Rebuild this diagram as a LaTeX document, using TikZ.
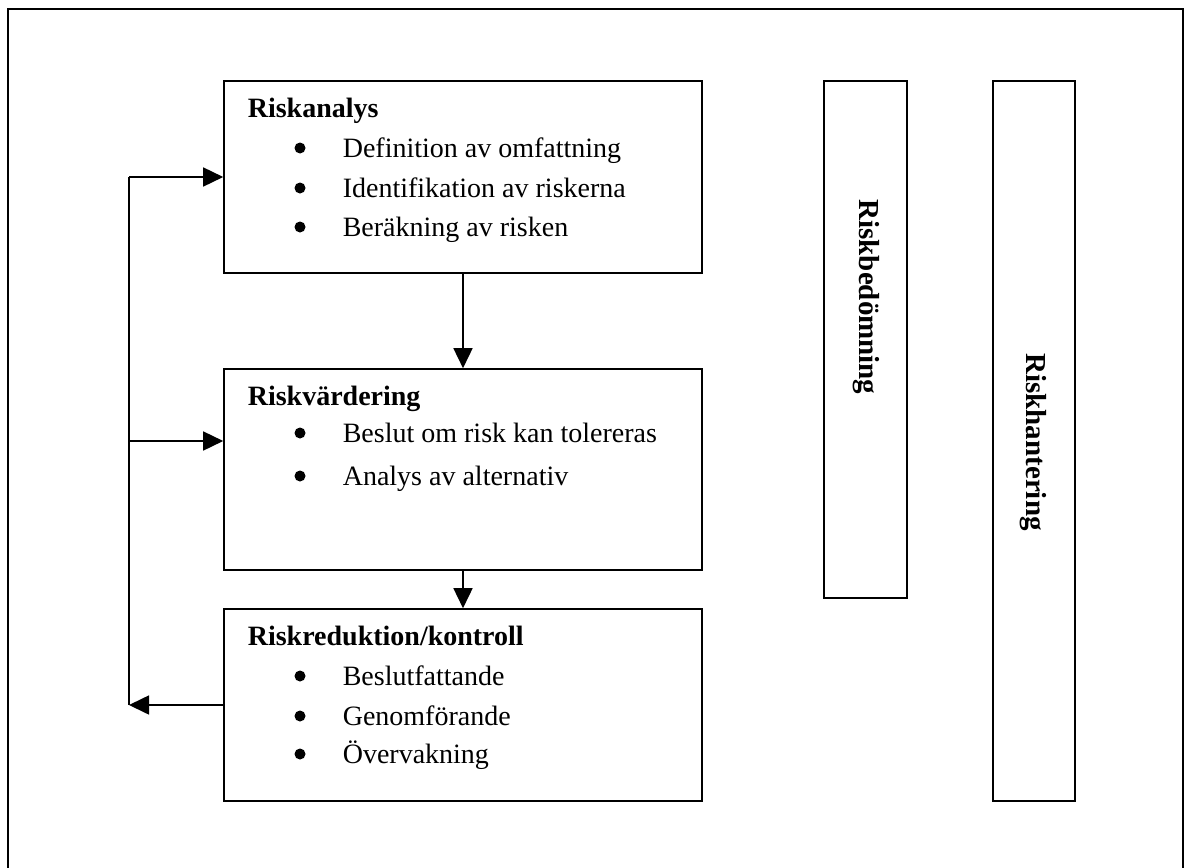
\documentclass[tikz,border=0pt]{standalone}
\usepackage{fontspec}
\setmainfont{Liberation Serif}
\usetikzlibrary{arrows.meta}

\begin{document}
\begin{tikzpicture}[
    x=1pt, y=-1pt,
    line cap=butt,
    line join=miter,
    >={Triangle[length=20pt,width=19pt]},   % arrow tip style
    line width=1.6pt,
    box/.style={draw, rectangle, inner sep=0pt},
    title/.style={anchor=base west, inner sep=0pt, font=\fontsize{28}{32}\selectfont\bfseries},
    item/.style={anchor=base west, inner sep=0pt, font=\fontsize{28}{32}\selectfont},
    dot/.style={circle, fill, inner sep=0pt, minimum size=11pt},
    side/.style={rotate=-90, inner sep=0pt, font=\fontsize{29}{34}\selectfont\bfseries}
]
\useasboundingbox (0,0) rectangle (1185,867);

%-----------------------
% 0) OUTER FRAME
%-----------------------
\draw (8,880) -- (8,9) -- (1183,9) -- (1183,880);

%-----------------------
% 1) RISKANALYS
%-----------------------
\node[box, minimum width=478pt, minimum height=192pt] (analys) at (463,177) {};
\node[title] (analysT) at (247,117) {Riskanalys};
\foreach \y/\txt [count=\i] in {157/Definition av omfattning,
                                197/Identifikation av riskerna,
                                236/Beräkning av risken} {
  \node[dot] (analysB\i) at (300,\y-9) {};
  \node[item] (analysI\i) at (342,\y) {\txt};
}

%-----------------------
% 2) RISKVÄRDERING
%-----------------------
\node[box, minimum width=478pt, minimum height=201pt] (vardering) at (463,469.5) {};
\node[title] (varderingT) at (247,405) {Riskvärdering};
\foreach \y/\txt [count=\i] in {442/Beslut om risk kan tolereras,
                                485/Analys av alternativ} {
  \node[dot] (varderingB\i) at (300,\y-9) {};
  \node[item] (varderingI\i) at (342,\y) {\txt};
}

%-----------------------
% 3) RISKREDUKTION
%-----------------------
\node[box, minimum width=478pt, minimum height=192pt] (reduktion) at (463,705) {};
\node[title] (reduktionT) at (247,645) {Riskreduktion/kontroll};
\foreach \y/\txt [count=\i] in {685/Beslutfattande,
                                725/Genomförande,
                                763/Övervakning} {
  \node[dot] (reduktionB\i) at (300,\y-9) {};
  \node[item] (reduktionI\i) at (342,\y) {\txt};
}

%-----------------------
% 4) SIDE BARS
%-----------------------
\node[box, minimum width=83pt, minimum height=517pt] (bedomning) at (865.5,339.5) {};
\node[side] (bedomningT) at (866,297) {Riskbedömning};
\node[box, minimum width=82pt, minimum height=720pt] (hantering) at (1034,441) {};
\node[side] (hanteringT) at (1033,442) {Riskhantering};

%-----------------------
% 5) ARROWS
%-----------------------
\draw[->] (analys) -- (vardering);
\draw[->] (vardering) -- (reduktion);

% feedback loop on the left
\coordinate (loop) at (129,705);
\coordinate (loopTop) at (129,177);
\coordinate (loopMid) at (129,441);
\draw[->] (reduktion.west) -- (loop);
\draw (loop) -- (loopTop);
\draw[->] (loopTop) -- (analys.west);
\draw[->] (loopMid) -- (vardering.west |- loopMid);

\end{tikzpicture}
\end{document}
